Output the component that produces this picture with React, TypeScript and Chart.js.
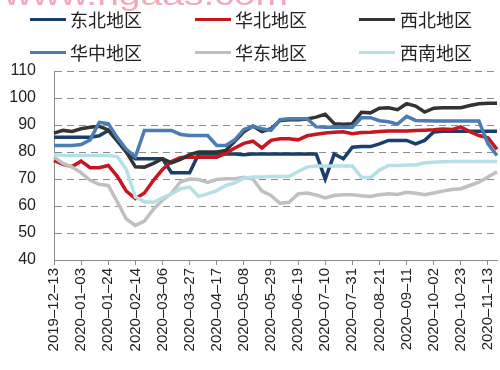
import React, { useEffect, useRef } from "react";
import { Chart, registerables } from "chart.js";

Chart.register(...registerables);

const dateLabels: string[] = [
  "2019–12–13", "2019–12–20", "2019–12–27", "2020–01–03", "2020–01–10", "2020–01–17", "2020–01–24", "2020–01–31", "2020–02–07", "2020–02–14",
  "2020–02–21", "2020–02–28", "2020–03–06", "2020–03–13", "2020–03–20", "2020–03–27", "2020–04–03", "2020–04–10", "2020–04–17", "2020–04–24",
  "2020–05–01", "2020–05–08", "2020–05–15", "2020–05–22", "2020–05–29", "2020–06–05", "2020–06–12", "2020–06–19", "2020–06–26", "2020–07–03",
  "2020–07–10", "2020–07–17", "2020–07–24", "2020–07–31", "2020–08–07", "2020–08–14", "2020–08–21", "2020–08–28", "2020–09–04", "2020–09–11",
  "2020–09–18", "2020–09–25", "2020–10–02", "2020–10–09", "2020–10–16", "2020–10–23", "2020–10–30", "2020–11–06", "2020–11–13", "2020–11–20",
];

const dongbei: number[] = [
  85.5, 85.5, 85.5, 85.5, 85.5, 86, 88, 84, 80, 77.5,
  77.5, 77.5, 77.5, 72.3, 72.3, 72.3, 79.3, 79.3, 79.3, 79.3,
  79.3, 79, 79.3, 79.3, 79.3, 79.3, 79.3, 79.3, 79.3, 79.3,
  70, 79.3, 77.5, 81.8, 82, 82, 83, 84.3, 84.3, 84.3,
  83, 84.3, 87.4, 87.7, 87.7, 87.7, 87.7, 87.7, 87.7, 87.7,
];
const huabei: number[] = [
  76.9, 75.4, 74.6, 76.6, 74.2, 74.2, 75, 71, 65.5, 62.7,
  64.8, 69.5, 73.5, 76.5, 78, 78.1, 78.1, 78.1, 78.1, 79.5,
  81.5, 83.2, 84, 81.5, 84.3, 84.9, 84.9, 84.5, 86, 86.6,
  87, 87.3, 87.5, 86.8, 87.2, 87.3, 87.6, 87.8, 87.8, 87.8,
  88, 88.1, 88.2, 88.5, 88.3, 89.3, 87.5, 86.1, 85.3, 81,
];
const xibei: number[] = [
  87, 88, 87.6, 88.6, 89.2, 89.5, 88.2, 84.5, 80, 74.5,
  74.4, 75.8, 77.5, 76, 77.3, 79, 80, 80, 80, 80.6,
  84, 87.5, 89.6, 87.6, 88.6, 91.7, 91.9, 91.9, 92.2, 92.9,
  94, 90.5, 90.3, 90.5, 94.7, 94.5, 96.2, 96.4, 95.7, 97.9,
  97, 94.8, 96.2, 96.4, 96.4, 96.4, 97.2, 97.9, 98.1, 98.1,
];
const huazhong: number[] = [
  82.4, 82.4, 82.4, 82.8, 84.5, 91, 90.5, 85.3, 81, 78.2,
  88, 88, 88, 88, 86.5, 86.1, 86.1, 86.1, 82.4, 82.4,
  84.5, 88.3, 89.5, 88.6, 88, 92, 92.3, 92.3, 92.3, 89.3,
  89.2, 89.2, 89.2, 89.2, 92.7, 92.7, 91.6, 91.2, 90.3, 93.2,
  91.7, 91.6, 91.5, 91.5, 91.5, 91.5, 91.5, 91.5, 83, 78.7,
];
const huadong: number[] = [
  78.1, 75.8, 74.4, 72.3, 69.5, 68, 67.6, 61.5, 55.2, 52.8,
  54.4, 58.8, 62.2, 64.8, 69, 70, 69.8, 68.7, 69.8, 70.1,
  70.1, 70.6, 70, 65.5, 63.9, 61, 61.4, 64.5, 64.8, 64.1,
  63, 63.9, 64.2, 64.2, 63.8, 63.5, 64.2, 64.5, 64.3, 65.1,
  64.7, 64.2, 64.8, 65.5, 66.1, 66.4, 67.6, 68.8, 70.7, 72.7,
];
const xinan: number[] = [
  79, 78.8, 78.7, 78.7, 78.7, 78.7, 78.7, 78.3, 73.5, 63.3,
  61.6, 61.4, 63, 64.5, 66.4, 67, 63.5, 64.5, 65.7, 67.6,
  68.6, 70.3, 70.7, 70.7, 70.9, 70.9, 70.9, 72.8, 74.4, 74.8,
  74.8, 74.8, 74.8, 74.8, 70.7, 70.5, 73.3, 75, 75, 75.2,
  75.2, 76, 76.2, 76.4, 76.5, 76.5, 76.5, 76.5, 76.5, 76.5,
];

const seriesNames: string[] = ["东北地区", "华北地区", "西北地区", "华中地区", "华东地区", "西南地区"];
const seriesColors: string[] = ["#1b3f6b", "#c8161e", "#333333", "#4a7db4", "#c0c0c0", "#b4e0e6"];
const seriesData: number[][] = [dongbei, huabei, xibei, huazhong, huadong, xinan];

const yTicks = { min: 40, max: 110, step: 10 };

const legendPos = [
  { line: 30, text: 70, y: 19 },
  { line: 195, text: 235, y: 19 },
  { line: 359, text: 400, y: 19 },
  { line: 30, text: 70, y: 52 },
  { line: 195, text: 235, y: 52 },
  { line: 359, text: 400, y: 52 },
];

export default function App() {
  const canvasRef = useRef<HTMLCanvasElement | null>(null);

  useEffect(() => {
    if (!canvasRef.current) return;
    Chart.defaults.font.family = "'Liberation Sans', Arial, sans-serif";
    const chart = new Chart(canvasRef.current, {
      type: "line",
      data: {
        labels: dateLabels,
        datasets: seriesNames.map((name, i) => ({
          label: name,
          data: seriesData[i],
          borderColor: seriesColors[i],
          backgroundColor: seriesColors[i],
          borderWidth: 3.5,
          pointRadius: 0,
          tension: 0,
          fill: false,
          order: seriesNames.length - i,
        })),
      },
      options: {
        responsive: false,
        maintainAspectRatio: false,
        animation: false,
        devicePixelRatio: 1,
        layout: { padding: { top: 71, right: 3, left: 0, bottom: 0 } },
        plugins: { legend: { display: false }, tooltip: { enabled: false } },
        scales: {
          x: {
            type: "category",
            offset: false,
            grid: {
              display: true,
              drawOnChartArea: false,
              drawTicks: true,
              tickLength: 5,
              tickWidth: 1,
              tickColor: (c: any) => (c.index % 3 === 0 ? "#8c8c8c" : "rgba(0,0,0,0)"),
            },
            border: { display: true, color: "#8c8c8c", width: 1 },
            ticks: {
              autoSkip: false,
              minRotation: 90,
              maxRotation: 90,
              padding: 3,
              color: "#222",
              font: { size: 15 },
              callback: (_v: any, i: number) => (i % 3 === 0 ? dateLabels[i] : ""),
            },
            afterFit: (s: any) => {
              s.height = 110;
              s.paddingLeft = 0;
              s.paddingRight = 0;
            },
          },
          y: {
            min: yTicks.min,
            max: yTicks.max,
            ticks: { stepSize: yTicks.step, padding: 18, color: "#222", font: { size: 16 } },
            grid: { color: "#8c8c8c", lineWidth: 1, drawTicks: false },
            border: { display: true, color: "#8c8c8c", width: 1, dash: [7, 5] },
            afterFit: (s: any) => {
              s.width = 54;
              s.paddingTop = 0;
              s.paddingBottom = 0;
            },
          },
        },
      },
    });
    return () => chart.destroy();
  }, []);

  return (
    <div
      style={{
        position: "fixed",
        left: 0,
        top: 0,
        width: 500,
        height: 370,
        background: "#fff",
        overflow: "hidden",
      }}
    >
      <canvas ref={canvasRef} width={500} height={370} style={{ display: "block", width: 500, height: 370 }} />
      <div
        style={{
          position: "absolute",
          left: 4,
          top: -20,
          fontFamily: "'Liberation Sans', Arial, sans-serif",
          fontSize: 30,
          lineHeight: "30px",
          color: "#f2a9b9",
          transform: "scaleX(1.3)",
          transformOrigin: "left top",
          whiteSpace: "nowrap",
        }}
      >
        www.ngaas.com
      </div>
      {seriesNames.map((name, i) => (
        <React.Fragment key={name}>
          <div
            style={{
              position: "absolute",
              left: legendPos[i].line,
              top: legendPos[i].y - 1.5,
              width: 36,
              height: 3,
              background: seriesColors[i],
            }}
          />
          <div
            style={{
              position: "absolute",
              left: legendPos[i].text,
              top: legendPos[i].y - 12,
              height: 24,
              lineHeight: "24px",
              fontFamily: "'Noto Sans CJK SC', sans-serif",
              fontSize: 18,
              color: "#222",
              whiteSpace: "nowrap",
            }}
          >
            {name}
          </div>
        </React.Fragment>
      ))}
    </div>
  );
}
